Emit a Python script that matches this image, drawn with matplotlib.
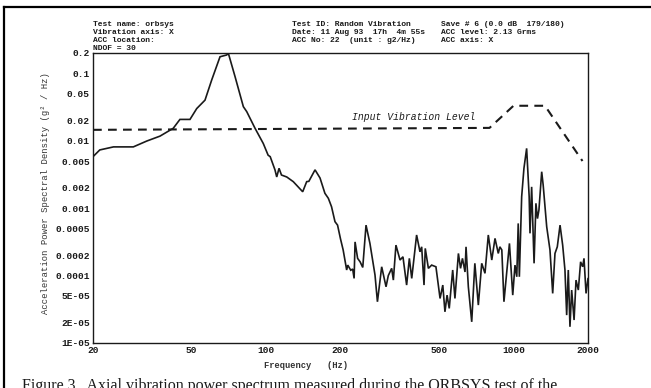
import matplotlib
matplotlib.use("Agg")
import matplotlib.pyplot as plt
from matplotlib.lines import Line2D

# Measured acceleration PSD (g^2/Hz) versus frequency (Hz)
freq_hz = [20, 21.3, 24.2, 29.1, 33, 37.3, 42.2, 44.9, 49.3, 52.5, 56.7, 60.3,
           65.2, 69.4, 70.4, 75, 81, 83.6, 90.3, 97.5, 102, 104, 108.7, 110.5,
           112.9, 115.5, 121.3, 128.9, 140.7, 146, 149, 157.8, 165.3, 173, 178.6,
           184, 190, 194.6, 200, 205, 211.8, 214, 220, 224, 227, 229, 234.5, 240,
           246, 253.6, 263, 275.7, 282, 293.4, 305.5, 312, 322, 327, 335, 348,
           357.6, 370, 379.5, 388, 406, 419, 425.6, 435, 440, 453, 467, 486, 505,
           518, 528.5, 539, 550, 568, 580, 599, 611, 622, 637, 643, 657, 678, 698,
           721, 744, 767, 791, 817, 842, 868, 881, 897, 915, 939, 963, 993, 1014,
           1031, 1045, 1056, 1079, 1102, 1130, 1157, 1166, 1184, 1211, 1232, 1250,
           1267, 1300, 1318, 1362, 1404, 1440, 1471, 1503, 1542, 1580, 1614, 1640,
           1665, 1691, 1718, 1757, 1789, 1828, 1867, 1903, 1927, 1964, 2000]
psd_g2hz = [0.0058, 0.0073, 0.0081, 0.0081, 0.0099, 0.0117, 0.0153, 0.0207, 0.0207,
            0.030, 0.040, 0.079, 0.176, 0.187, 0.200, 0.089, 0.032, 0.027, 0.0153,
            0.0091, 0.0061, 0.0058, 0.0037, 0.0029, 0.0039, 0.0031, 0.0029, 0.00247,
            0.00175, 0.00247, 0.0025, 0.0037, 0.0028, 0.00166, 0.0014, 0.00105,
            0.00063, 0.00056, 0.00035, 0.00024, 0.000121, 0.000143, 0.00012,
            0.000125, 0.0000908, 0.000316, 0.00018, 0.00016, 0.000132, 0.00056,
            0.0003, 0.000102, 0.0000409, 0.000135, 0.0000682, 0.0001, 0.000128,
            0.0000857, 0.000283, 0.00017, 0.00019, 0.0000723, 0.00018, 0.0000908,
            0.0004, 0.000225, 0.000267, 0.0000723, 0.000253, 0.000128, 0.000143,
            0.000135, 0.0000458, 0.0000723, 0.000029, 0.0000513, 0.0000326, 0.000121,
            0.0000458, 0.000213, 0.000128, 0.00018, 0.000113, 0.000267, 0.0000682,
            0.0000206, 0.000152, 0.0000365, 0.000152, 0.000108, 0.0004, 0.00017,
            0.000356, 0.000213, 0.000267, 0.00024, 0.0000409, 0.000113, 0.0003,
            0.0000513, 0.000143, 0.000096, 0.000594, 0.000096, 0.00148, 0.00389,
            0.0077, 0.00148, 0.000423, 0.00207, 0.000152, 0.00118, 0.0007, 0.00094,
            0.00347, 0.0022, 0.00053, 0.00024, 0.0000544, 0.000213, 0.000267,
            0.00056, 0.000283, 0.000121, 0.0000259, 0.000121, 0.0000174, 0.000061,
            0.0000219, 0.0000857, 0.000061, 0.00016, 0.000135, 0.00018, 0.0000544,
            0.00009]

# Input vibration level profile
input_freq_hz = [20, 800, 1000, 1340, 1900]
input_g2hz = [0.0145, 0.0155, 0.033, 0.033, 0.005]

y_ticks = [0.2, 0.1, 0.05, 0.02, 0.01, 0.005, 0.002, 0.001, 0.0005, 0.0002,
           0.0001, 5e-05, 2e-05, 1e-05]
y_tick_labels = ["0.2", "0.1", "0.05", "0.02", "0.01", "0.005", "0.002", "0.001",
                 "0.0005", "0.0002", "0.0001", "5E-05", "2E-05", "1E-05"]
x_ticks = [20, 50, 100, 200, 500, 1000, 2000]
x_tick_labels = ["20", "50", "100", "200", "500", "1000", "2000"]

header_col1 = ["Test name: orbsys", "Vibration axis: X", "ACC location:", "NDOF = 30"]
header_col2 = ["Test ID: Random Vibration", "Date: 11 Aug 93  17h  4m 55s",
               "ACC No: 22  (unit : g2/Hz)"]
header_col3 = ["Save # 6 (0.0 dB  179/180)", "ACC level: 2.13 Grms", "ACC axis: X"]

W, H = 651, 388
MONO = "Liberation Mono"
INK = "#1a1a1a"


def fx(x):
    return x / W


def fy(y):
    return 1 - y / H


fig = plt.figure(figsize=(W / 100, H / 100), dpi=100)
fig.patch.set_facecolor("white")
ax = fig.add_axes([fx(93), fy(343), fx(588) - fx(93), fy(53) - fy(343)])

ax.plot(freq_hz, psd_g2hz, color=INK, lw=1.2, solid_joinstyle="miter")
ax.plot(input_freq_hz, input_g2hz, color=INK, lw=1.5,
        linestyle=(0, (4.2, 3.0)))

ax.set_xscale("log")
ax.set_yscale("log")
ax.set_xlim(20, 2000)
ax.set_ylim(1e-05, 0.2)
ax.set_xticks(x_ticks)
ax.set_xticklabels(x_tick_labels)
ax.set_yticks(y_ticks)
ax.set_yticklabels(y_tick_labels)
ax.minorticks_off()
ax.tick_params(axis="both", length=0, pad=2.2)
for lab in ax.get_xticklabels() + ax.get_yticklabels():
    lab.set_fontfamily(MONO)
    lab.set_fontweight("bold")
    lab.set_fontsize(6.8)
    lab.set_color(INK)
for sp in ax.spines.values():
    sp.set_linewidth(1.0)
    sp.set_color(INK)

ax.text(0.523, 0.78, "Input Vibration Level", transform=ax.transAxes,
        fontfamily=MONO, fontstyle="italic", fontsize=7, color=INK,
        va="center", ha="left")

# Header block above the plot
for col_x, lines in ((93, header_col1), (292, header_col2), (441, header_col3)):
    for i, s in enumerate(lines):
        fig.text(fx(col_x), fy(24 + 8 * i), s, fontfamily=MONO, fontweight="bold",
                 fontsize=5.8, va="center", ha="left", color=INK)

fig.text(fx(45), fy(193), "Acceleration Power Spectral Density (g\u00b2 / Hz)",
         rotation=90, fontfamily=MONO, fontsize=6.4, va="center", ha="center",
         color="#333333")
fig.text(fx(306), fy(366), "Frequency   (Hz)", fontfamily=MONO, fontweight="bold",
         fontsize=6.3, va="center", ha="center", color="#333333")

# Caption line running off the bottom of the page
fig.text(fx(22), fy(378), "Figure 3.  Axial vibration power spectrum measured during the ORBSYS test of the",
         fontfamily="Liberation Serif", fontsize=11.5, va="top", ha="left",
         color=INK)

# Page frame
fig.add_artist(Line2D([fx(4), 1.0], [fy(7), fy(7)], color="black", lw=1.6))
fig.add_artist(Line2D([fx(4), fx(4)], [fy(7), 0.0], color="black", lw=1.6))

fig.savefig("out.png", dpi=100, facecolor="white")
